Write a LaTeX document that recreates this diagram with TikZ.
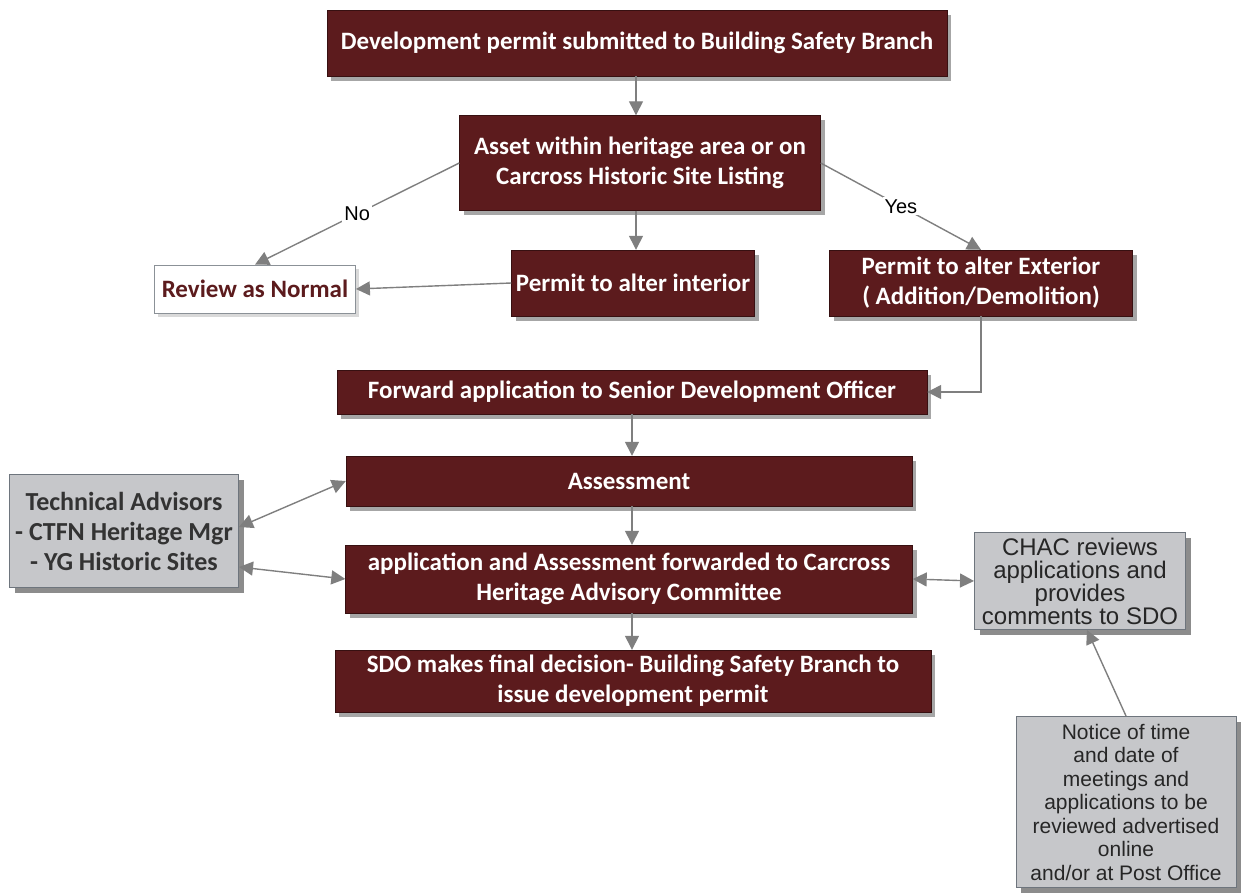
\documentclass[tikz,border=0pt]{standalone}
\usepackage{fontspec}
\setmainfont{Carlito}
\newfontfamily\arialfont{Liberation Sans}
\usetikzlibrary{shapes,
                arrows.meta,
                positioning,
                shadows}
\definecolor{permitred}{HTML}{5C1B1D}
\definecolor{advisorgrey}{HTML}{C6C7CA}
\definecolor{advisoredge}{HTML}{6E757D}
\definecolor{linkgrey}{HTML}{7F7F7F}
\tikzset{block/.style=
   {rectangle,
    draw=permitred!60!black,
    fill=permitred,
    text=white,
    align=center,
    inner sep=0pt,
    font=\fontsize{25}{30}\selectfont\bfseries,
    drop shadow={shadow xshift=4pt,
                 shadow yshift=-5pt,
                 fill=black,
                 opacity=0.35}}}
\tikzset{advisor/.style =
   {rectangle,
    draw=advisoredge,
    line width=1pt,
    fill=advisorgrey,
    text=black!85,
    align=center,
    inner sep=0pt,
    drop shadow={shadow xshift=5pt,
                 shadow yshift=-5pt,
                 fill=black,
                 opacity=0.45}}}
\tikzset{normalbox/.style =
   {rectangle,
    draw=advisoredge!80,
    line width=0.8pt,
    fill=white,
    text=permitred,
    inner sep=0pt,
    font=\fontsize{25}{28}\selectfont\bfseries,
    drop shadow={shadow xshift=3pt,
                 shadow yshift=-4pt,
                 fill=black,
                 opacity=0.15}}}
\tikzset{arrow/.style = {draw=linkgrey, line width=1.4pt, -{Triangle[width=14pt,length=14pt]}}}
\tikzset{twoway/.style = {draw=linkgrey, line width=1.4pt,
    {Triangle[width=14pt,length=14pt]}-{Triangle[width=14pt,length=14pt]}}}
\tikzset{answer/.style = {fill=white, inner sep=2pt, font=\arialfont\fontsize{20}{22}\selectfont}}

\begin{document}
\begin{tikzpicture}[x=1pt, y=-1pt]

    \useasboundingbox (0,0) rectangle (1241,893);

    \node [block,
           minimum width=620pt,
           minimum height=66pt] (submit) at (637,43)
    {Development permit submitted to Building Safety Branch};

    \node [block,
           minimum width=361pt,
           minimum height=95pt] (asset) at (640,163)
    {Asset within heritage area or on\\Carcross Historic Site Listing};

    \node [normalbox,
           minimum width=201pt,
           minimum height=48pt] (normal) at (255,289)
    {Review as Normal};

    \node [block,
           minimum width=243pt,
           minimum height=66pt] (interior) at (633,283)
    {Permit to alter interior};

    \node [block,
           minimum width=303pt,
           minimum height=66pt] (exterior) at (981,283)
    {Permit to alter Exterior\\( Addition/Demolition)};

    \node [block,
           minimum width=590pt,
           minimum height=44pt] (forward) at (632,392)
    {Forward application to Senior Development Officer};

    \node [block,
           minimum width=566pt,
           minimum height=50pt] (assess) at (629,481)
    {Assessment};

    \node [block,
           minimum width=567pt,
           minimum height=68pt] (chacfwd) at (629,579)
    {application and Assessment forwarded to Carcross\\Heritage Advisory Committee};

    \node [block,
           minimum width=596pt,
           minimum height=62pt] (decision) at (633,681)
    {SDO makes final decision- Building Safety Branch to\\issue development permit};

    \node [advisor,
           minimum width=229pt,
           minimum height=113pt,
           text=black!80,
           font=\fontsize{26}{30}\selectfont\bfseries] (tech) at (124,531)
    {Technical Advisors\\- CTFN Heritage Mgr\\- YG Historic Sites};

    \node [advisor,
           minimum width=211pt,
           minimum height=97pt,
           font=\arialfont\fontsize{24}{23}\selectfont] (chac) at (1080,581)
    {CHAC reviews\\applications and\\provides\\comments to SDO};

    \node [advisor,
           minimum width=220pt,
           minimum height=171pt,
           font=\arialfont\fontsize{21}{23.5}\selectfont] (notice) at (1126,802)
    {Notice of time\\and date of\\meetings and\\applications to be\\reviewed advertised\\online\\and/or at Post Office};

    % main flow
    \draw [arrow] (submit.south -| 636,0) -- (asset.north -| 636,0);
    \draw [arrow] (asset.south -| 636,0) -- (interior.north -| 636,0);
    \draw [arrow] (asset.west) -- node[answer] {No} (normal.north);
    \draw [arrow] (asset.east) -- node[answer] {Yes} (exterior.north);
    \draw [arrow] (interior.west) -- (normal.east);
    \draw [arrow] (exterior.south) |- (forward.east);
    \draw [arrow] (forward.south -| 632,0) -- (assess.north -| 632,0);
    \draw [arrow] (assess.south -| 632,0) -- (chacfwd.north -| 632,0);
    \draw [arrow] (chacfwd.south -| 632,0) -- (decision.north -| 632,0);

    % advisors
    \draw [twoway] ([yshift=4pt]tech.east) -- (assess.west);
    \draw [twoway] ([yshift=-36pt]tech.east) -- (chacfwd.west);
    \draw [twoway] (chacfwd.east) -- (chac.west);
    \draw [arrow] (notice.north) -- ([xshift=7pt]chac.south);

\end{tikzpicture}
\end{document}
